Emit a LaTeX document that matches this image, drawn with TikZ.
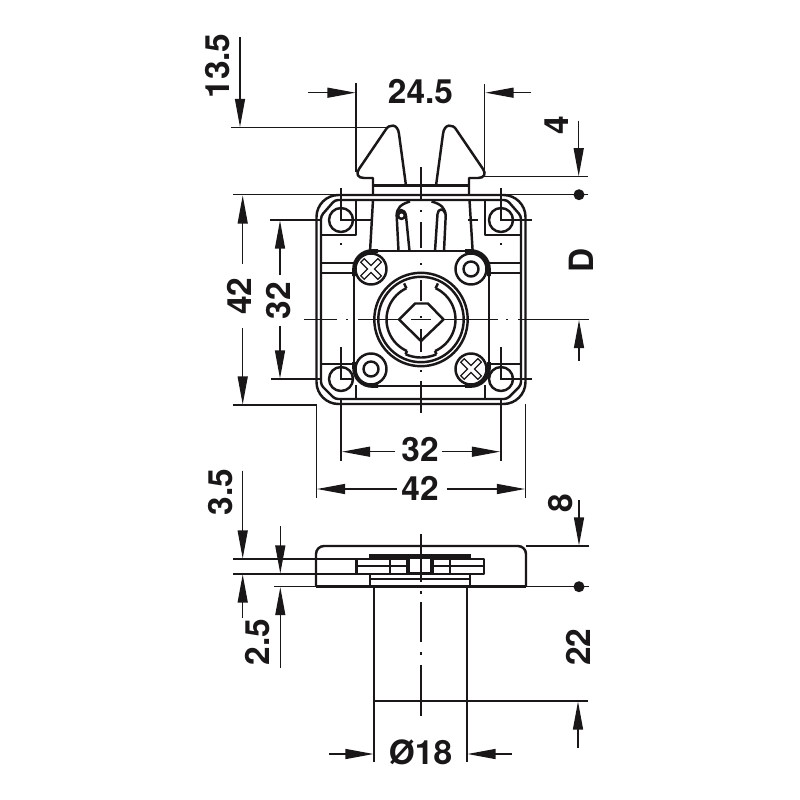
\documentclass[tikz,border=0pt]{standalone}
\usepackage{fontspec}
\setmainfont{TeX Gyre Heros}
\usetikzlibrary{arrows.meta}
\definecolor{ink}{HTML}{1A1718}
\tikzset{
  outline/.style={draw=ink,line width=0.7pt,line join=round},
  heavy/.style={draw=ink,line width=1.05pt,line join=round},
  medium/.style={draw=ink,line width=0.5pt},
  thin line/.style={draw=ink,line width=0.33pt},
  dimarrow/.style={draw=ink,line width=0.33pt,-{Triangle[length=0.28cm,width=0.1cm,fill=ink]}},
  dimlabel/.style={font=\bfseries\fontsize{9.5pt}{9.5pt}\selectfont,text=ink,inner sep=0pt,anchor=center},
  dimdot/.style={fill=ink,draw=none}
}
\begin{document}
\begin{tikzpicture}[x=0.01cm,y=-0.01cm]
\useasboundingbox (0,0) rectangle (800,800);
\fill[white] (0,0) rectangle (800,800);

% catches
\draw[outline] (373,195) -- (373,178) -- (364,178) .. controls (358,178) and (355.5,174) .. (359,169) -- (385.5,130) .. controls (389,123.5) and (398,123.5) .. (399,134) -- (406,185.7);
\draw[outline] (469,195) -- (469,178) -- (478,178) .. controls (484,178) and (486.5,174) .. (483,169) -- (456.5,130) .. controls (453,123.5) and (444,123.5) .. (443,134) -- (436,185.7);
\draw[outline] (373,185.7) -- (469,185.7);

% plate
\draw[outline,fill=white,rounded corners=0.22cm] (316.5,195) rectangle (525.5,404);
\draw[outline,rounded corners=0.03cm] (321,216) -- (335,200) -- (507,200) -- (521,216) -- (521,385) -- (507,399) -- (335,399) -- (321,385) -- cycle;
\draw[outline] (321,235) -- (356,235) -- (356,200);
\draw[outline] (521,235) -- (485,235) -- (485,200);
\draw[outline] (321,364) -- (356,364);
\draw[outline] (521,364) -- (487,364);
\draw[outline] (356,385) -- (356,399);
\draw[outline] (485,385) -- (485,399);
\draw[outline] (321,263) -- (356,263) (321,273) -- (356,273);
\draw[outline] (487,263) -- (521,263) (487,273) -- (521,273);
\draw[outline] (373,200) -- (370,252);
\draw[outline] (469.5,200) -- (472.7,252);

% spring
\draw[outline] (398.5,251) -- (396.7,216) .. controls (396.5,208) and (401,204) .. (410,201.5);
\draw[outline] (409.5,251) -- (406,216);
\draw[outline] (396.7,216) .. controls (397,208) and (405,208) .. (406,216);
\draw[outline] (435,251) -- (437.5,214);
\draw[outline] (444,251) -- (445.7,216) .. controls (445.5,208) and (441,204) .. (431.5,201.5);
\draw[outline] (437.5,214) .. controls (438,208) and (444,208) .. (445.5,214);
\draw[outline] (401.5,215.5) circle[radius=3.4];

% mounting holes
\foreach \hx/\hy in {341/220,501/220,341/379,501/379}
  \draw[outline] (\hx,\hy) circle[radius=12];

% mount square
\draw[medium,fill=white,rounded corners=0.18cm] (354,251) rectangle (489,386);
\draw[heavy,rounded corners=0.18cm] (354,276) -- (354,251) -- (378,251);
\draw[heavy,rounded corners=0.18cm] (465,251) -- (489,251) -- (489,276);
\draw[heavy,rounded corners=0.18cm] (354,362) -- (354,386) -- (378,386);
\draw[heavy,rounded corners=0.18cm] (465,386) -- (489,386) -- (489,362);

% screws
\foreach \sx/\sy in {371/269,471/269,371/369,471/369}
  \draw[outline,fill=white] (\sx,\sy) circle[radius=15.5];
\foreach \sx/\sy in {471/269,371/369}
  \draw[outline] (\sx,\sy) circle[radius=7.5];
\foreach \sx/\sy in {371/269,471/369}{
  \draw[draw=ink,line width=1.75pt] (\sx-9,\sy-9) -- (\sx+9,\sy+9) (\sx-9,\sy+9) -- (\sx+9,\sy-9);
  \draw[draw=white,line width=0.95pt] (\sx-8,\sy-8) -- (\sx+8,\sy+8) (\sx-8,\sy+8) -- (\sx+8,\sy-8);
}

% hub
\draw[outline] (421,319.5) circle[radius=46.7];
\draw[outline] (421,319.5) circle[radius=42.7];
\draw[outline] plot[domain=115:246,samples=40,smooth] ({421+34.5*cos(\x)},{319.5-34.5*sin(\x)});
\draw[outline] plot[domain=-66:65,samples=40,smooth] ({421+34.5*cos(\x)},{319.5-34.5*sin(\x)});
\draw[outline] plot[domain=246:294,samples=20,smooth] ({421+38*cos(\x)},{319.5-38*sin(\x)});
\draw[outline] (406.4,288.2) -- (404.1,283.4);
\draw[outline] (435.6,288.2) -- (437.9,283.4);
\draw[outline] (407,351) -- (405.5,354.2);
\draw[outline] (435,351) -- (436.5,354.2);
\draw[outline] (399,319.5) -- (415,303.5) -- (428,303.5) -- (443.5,319.5) -- (421,341) -- cycle;

% centre lines, drawing
\draw[thin line] (421,167) -- (421,200) (421,210) -- (421,212) (421,222) -- (421,248) (421,263) -- (421,265)
  (421,280) -- (421,301) (421,316) -- (421,318) (421,329) -- (421,352) (421,370) -- (421,372) (421,381) -- (421,413);
\draw[thin line] (304,319.5) -- (337,319.5) (346,319.5) -- (348,319.5) (358,319.5) -- (400,319.5) (411,319.5) -- (431,319.5)
  (443,319.5) -- (498,319.5) (506,319.5) -- (508,319.5) (518,319.5) -- (589,319.5);
\draw[thin line] (341,188) -- (341,220) -- (372,220) (341,243) -- (341,245);
\draw[thin line] (501,188) -- (501,220) -- (532,220) (468,220) -- (478,220) (501,243) -- (501,245);
\draw[thin line] (341,347) -- (341,379) -- (353,379);
\draw[thin line] (501,347) -- (501,379) -- (532,379);

% side view
\draw[outline,rounded corners=0.08cm] (316,586.7) -- (316,546) -- (526,546) -- (526,586.7);
\draw[outline] (316,586.7) -- (526,586.7);
\draw[outline,fill=white] (356.7,559) rectangle (484,574);
\draw[medium] (356.7,566) -- (409,566) (433,566) -- (484,566);
\draw[medium] (390,559) -- (390,574) (406.7,559) -- (406.7,574) (450,559) -- (450,574) (433,559) -- (433,574);
\draw[outline,fill=white] (409,557) rectangle (431,573);
\draw[draw=ink,line width=1.3pt] (369,556.5) -- (471,556.5);
\draw[outline] (370,575) -- (370,586.7) (470,575) -- (470,586.7);
\draw[medium] (370,579) -- (470,579);
\draw[outline] (374,586.7) -- (374,701) -- (467,701) -- (467,586.7);
\draw[thin line] (421,534) -- (421,582) (421,591) -- (421,594) (421,602) -- (421,642) (421,652) -- (421,655) (421,665) -- (421,716);

% extension lines
\draw[thin line] (231,127.5) -- (387,127.5);
\draw[thin line] (356,83) -- (356,172);
\draw[thin line] (484.7,84) -- (484.7,172);
\draw[thin line] (484,176.7) -- (588,176.7);
\draw[thin line] (233,194.7) -- (345,194.7) (497,194.7) -- (588,194.7);
\draw[thin line] (233,405) -- (316,405);
\draw[thin line] (270,220) -- (321,220);
\draw[thin line] (271,379) -- (321,379);
\draw[thin line] (341,400) -- (341,461);
\draw[thin line] (501,400) -- (501,461);
\draw[thin line] (316.5,404) -- (316.5,498);
\draw[thin line] (525.5,404) -- (525.5,498);
\draw[thin line] (233,559) -- (356.7,559);
\draw[thin line] (233,574) -- (356.7,574);
\draw[thin line] (274,586.7) -- (316,586.7);
\draw[thin line] (526,546) -- (589,546);
\draw[thin line] (526,586.7) -- (589,586.7);
\draw[thin line] (374,701) -- (374,762);
\draw[thin line] (467,701) -- (467,762);
\draw[thin line] (467,701) -- (588,701);

% dots
\fill[dimdot] (579,194.7) circle[radius=5.5];
\fill[dimdot] (579,586.7) circle[radius=5.5];

% dimension arrows
\draw[dimarrow] (240,37) -- (240,127);
\draw[dimarrow] (308,92.7) -- (355.5,92.7);
\draw[dimarrow] (530.7,92.7) -- (485.5,92.7);
\draw[dimarrow] (578.7,120.7) -- (578.7,176.2);
\draw[dimarrow] (242.7,264) -- (242.7,195.5);
\draw[dimarrow] (242.7,328) -- (242.7,404.5);
\draw[dimarrow] (280,275) -- (280,220.5);
\draw[dimarrow] (280,325.7) -- (280,378.5);
\draw[dimarrow] (395,451.7) -- (342,451.7);
\draw[dimarrow] (441.7,451.7) -- (500,451.7);
\draw[dimarrow] (396.7,489) -- (317,489);
\draw[dimarrow] (446.7,489) -- (525,489);
\draw[dimarrow] (242.7,470.7) -- (242.7,558.5);
\draw[dimarrow] (242.7,617.7) -- (242.7,574.5);
\draw[dimarrow] (280.3,526) -- (280.3,573.5);
\draw[dimarrow] (280.3,668) -- (280.3,587.2);
\draw[dimarrow] (579,500) -- (579,545.5);
\draw[dimarrow] (578,748) -- (578,701.5);
\draw[dimarrow] (329,754) -- (373.5,754);
\draw[dimarrow] (511.7,754) -- (467.5,754);
\draw[dimarrow] (579,361) -- (579,320);

% labels
\node[dimlabel,rotate=90] (l135) at (218,66) {13.5};
\node[dimlabel] (l245) at (420.5,92) {24.5};
\node[dimlabel,rotate=90] (l4) at (557,125) {4};
\node[dimlabel,rotate=90] (lD) at (581.7,260) {D};
\node[dimlabel,rotate=90] (l42a) at (239.5,296) {42};
\node[dimlabel,rotate=90] (l32a) at (279,300.5) {32};
\node[dimlabel] (l32b) at (420,450) {32};
\node[dimlabel] (l42b) at (420,488) {42};
\node[dimlabel,rotate=90] (l35) at (221,492) {3.5};
\node[dimlabel,rotate=90] (l25) at (258,642) {2.5};
\node[dimlabel,rotate=90] (l8) at (561,503) {8};
\node[dimlabel,rotate=90] (l22) at (578,647) {22};
\node[dimlabel] (l18) at (420.5,752) {Ø18};
\end{tikzpicture}
\end{document}
